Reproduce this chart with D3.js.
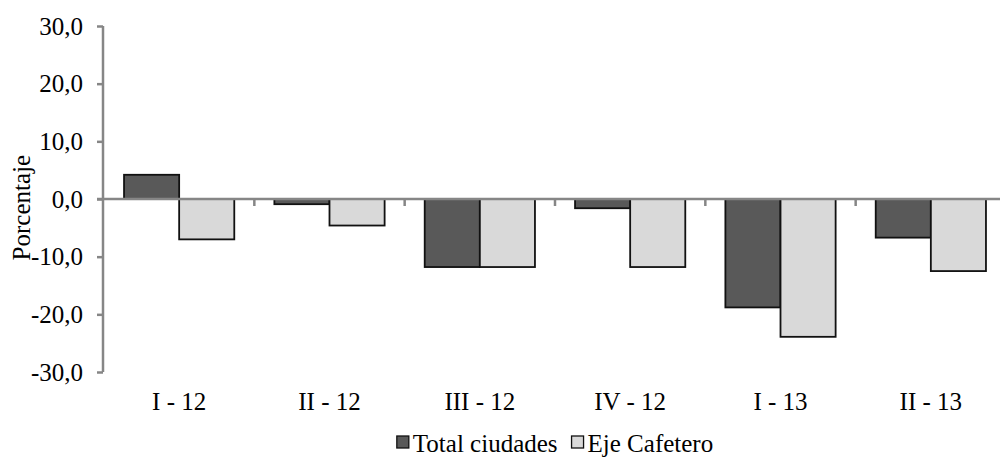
<!DOCTYPE html>
<html>
<head>
<meta charset="utf-8">
<script src="https://cdn.jsdelivr.net/npm/d3@7"></script>
<style>
  html, body { margin: 0; padding: 0; background: #fff; }
  svg, svg text { font-family: 'Liberation Serif', 'Times New Roman', Tinos, 'DejaVu Serif', serif !important; }
  svg { display: block; }
</style>
</head>
<body>
<svg id="chart" width="1000" height="457"></svg>
<script>
// chart data
const periods = ['I - 12', 'II - 12', 'III - 12', 'IV - 12', 'I - 13', 'II - 13']
const seriesNames = ['Total ciudades', 'Eje Cafetero']
const totalCiudades = [4.2, -0.9, -11.8, -1.6, -18.8, -6.7]
const ejeCafetero = [-7.0, -4.6, -11.8, -11.8, -23.9, -12.5]
const yTicks = [-30, -20, -10, 0, 10, 20, 30]

const colors = { 'Total ciudades': '#595959', 'Eje Cafetero': '#d9d9d9' }
const axisColor = '#868686'

const svg = d3.select('#chart')
const plotL = 104, plotR = 1006, plotT = 26, plotB = 372

const rows = periods.map((p, i) => ({
  period: p,
  values: [
    { name: seriesNames[0], v: totalCiudades[i] },
    { name: seriesNames[1], v: ejeCafetero[i] }
  ]
}))

const y = d3.scaleLinear().domain([-30, 30]).range([plotB, plotT])

const x0 = d3.scaleBand()
  .domain(periods)
  .range([plotL, plotR])
  .paddingInner(0.2667)
  .paddingOuter(0.1333)

const x1 = d3.scaleBand()
  .domain(seriesNames)
  .range([0, x0.bandwidth()])

const xCat = d3.scaleBand().domain(periods).range([plotL, plotR])

const locale = d3.formatLocale({ decimal: ',', thousands: '.', grouping: [3], currency: ['', ''], minus: '-' })
const fmt = locale.format('.1f')

// bars
const groups = svg.append('g')
  .selectAll('g')
  .data(rows)
  .join('g')
  .attr('transform', d => `translate(${x0(d.period)},0)`)

groups.selectAll('rect')
  .data(d => d.values)
  .join('rect')
  .attr('x', d => x1(d.name))
  .attr('width', x1.bandwidth())
  .attr('y', d => y(Math.max(0, d.v)))
  .attr('height', d => Math.abs(y(d.v) - y(0)))
  .attr('fill', d => colors[d.name])
  .attr('stroke', '#111')
  .attr('stroke-width', 1.8)

// y axis
const yAxis = svg.append('g')
  .attr('transform', `translate(${plotL - 1},0)`)
  .call(d3.axisLeft(y).tickValues(yTicks).tickFormat(fmt).tickSize(6).tickPadding(14))
yAxis.attr('font-family', null)
yAxis.select('.domain').attr('stroke', axisColor).attr('stroke-width', 2.5)
  .attr('d', `M0,${plotT}V${plotB}`)
yAxis.selectAll('.tick line').attr('stroke', axisColor).attr('stroke-width', 2.5)
yAxis.selectAll('.tick text')
  .attr('font-size', 25)
  .attr('fill', '#000')

// x axis line at zero
svg.append('line')
  .attr('x1', plotL - 7).attr('x2', 1000)
  .attr('y1', y(0)).attr('y2', y(0))
  .attr('stroke', axisColor).attr('stroke-width', 2.5)

// category boundary ticks
svg.append('g')
  .selectAll('line')
  .data(periods.slice(1))
  .join('line')
  .attr('x1', d => xCat(d)).attr('x2', d => xCat(d))
  .attr('y1', y(0)).attr('y2', y(0) + 7)
  .attr('stroke', axisColor).attr('stroke-width', 2.5)

// category labels
const xAxis = svg.append('g')
  .attr('transform', `translate(0,${plotB + 8})`)
  .call(d3.axisBottom(xCat).tickSize(0).tickPadding(12))
xAxis.attr('font-family', null)
xAxis.select('.domain').remove()
xAxis.selectAll('.tick text')
  .attr('font-size', 25)
  .attr('fill', '#000')

// y axis title
svg.append('text')
  .attr('transform', `translate(30,${y(-1.5)}) rotate(-90)`)
  .attr('text-anchor', 'middle')
  .attr('font-size', 25)
  .text('Porcentaje')

// legend
const legend = svg.append('g').attr('transform', 'translate(0,452)')
const items = legend.selectAll('g')
  .data(seriesNames)
  .join('g')

items.append('rect')
  .attr('y', -16)
  .attr('width', 12).attr('height', 12)
  .attr('fill', d => colors[d])
  .attr('stroke', '#111').attr('stroke-width', 1.3)

items.append('text')
  .attr('x', 16)
  .attr('font-size', 25)
  .text(d => d)

let cursor = 0
const offsets = []
items.each(function () {
  offsets.push(cursor)
  cursor += this.getBBox().width + 14
})
const totalW = cursor - 14
const start = (plotL + plotR) / 2 - totalW / 2
items.attr('transform', (d, i) => `translate(${start + offsets[i]},0)`)
</script>
</body>
</html>
